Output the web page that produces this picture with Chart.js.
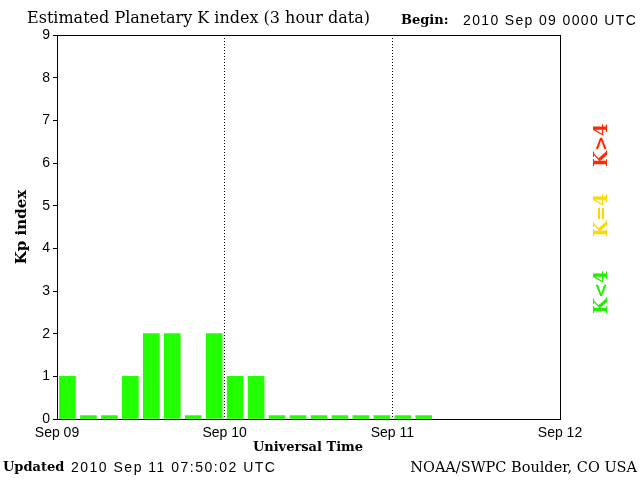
<!DOCTYPE html>
<html>
<head>
<meta charset="utf-8">
<script src="https://cdn.jsdelivr.net/npm/chart.js@4/dist/chart.umd.min.js"></script>
<style>
  body { margin: 0; background: #fff; }
  canvas { display: block; }
</style>
</head>
<body>
<canvas id="kpChart" width="640" height="480"></canvas>
<script>
// 3 hour bins starting at 2010 Sep 09 0000 UTC (hours from start)
const binStartHours = [0, 3, 6, 9, 12, 15, 18, 21, 24, 27, 30, 33, 36, 39, 42, 45, 48, 51];
// Kp values (0 shown as a small stub)
const kpValues = [1, 0.08, 0.08, 1, 2, 2, 0.08, 2, 1, 1, 0.08, 0.08, 0.08, 0.08, 0.08, 0.08, 0.08, 0.08];
const dayTickHours = [0, 24, 48, 72];
const dayTickLabels = ['Sep 09', 'Sep 10', 'Sep 11', 'Sep 12'];
const kpTicks = [0, 1, 2, 3, 4, 5, 6, 7, 8, 9];

const serif = '"DejaVu Serif", "Liberation Serif", serif';
const sans = '"Liberation Sans", Arial, sans-serif';

const textPlugin = {
  id: 'pageText',
  afterDraw(chart) {
    const ctx = chart.ctx;
    ctx.save();
    ctx.fillStyle = '#000';
    ctx.textBaseline = 'middle';
    ctx.textAlign = 'left';

    ctx.font = '16px ' + serif;
    ctx.fillText('Estimated Planetary K index (3 hour data)', 27, 19);
    ctx.font = 'bold 13px ' + serif;
    ctx.fillText('Begin:', 401, 21);
    ctx.font = '14px ' + sans;
    ctx.letterSpacing = '1.35px';
    ctx.fillText('2010 Sep 09 0000 UTC', 463, 21);

    ctx.letterSpacing = '0px';
    ctx.font = 'bold 13px ' + serif;
    ctx.fillText('Updated', 3, 468);
    ctx.font = '14px ' + sans;
    ctx.letterSpacing = '1.5px';
    ctx.fillText('2010 Sep 11 07:50:02 UTC', 71, 468);
    ctx.letterSpacing = '0px';
    ctx.font = '14.5px ' + serif;
    ctx.textAlign = 'right';
    ctx.fillText('NOAA/SWPC Boulder, CO USA', 637, 468);

    ctx.textAlign = 'center';
    ctx.font = 'bold 13px ' + serif;
    ctx.fillText('Universal Time', 308, 448);

    // rotated labels
    const rot = (txt, x, y, color, font) => {
      ctx.save();
      ctx.translate(x, y);
      ctx.rotate(-Math.PI / 2);
      ctx.fillStyle = color;
      ctx.font = font;
      ctx.fillText(txt, 0, 0);
      ctx.restore();
    };
    rot('Kp index', 22, 227, '#000', 'bold 15px ' + serif);
    rot('K>4', 602, 145, '#ff2a00', 'bold 18px ' + serif);
    rot('K=4', 602, 215, '#ffd700', 'bold 18px ' + serif);
    rot('K<4', 602, 292, '#22ee00', 'bold 18px ' + serif);
    ctx.restore();
  }
};

new Chart(document.getElementById('kpChart'), {
  type: 'bar',
  data: {
    datasets: [{
      data: binStartHours.map((h, i) => ({ x: h + 1.5, y: kpValues[i] })),
      backgroundColor: '#22ff00',
      borderWidth: 0,
      barThickness: 16,
      grouped: false
    }]
  },
  options: {
    responsive: false,
    animation: false,
    layout: { padding: { left: 0, top: 35, right: 80, bottom: 31 } },
    plugins: { legend: { display: false }, tooltip: { enabled: false }, title: { display: false } },
    scales: {
      x: {
        type: 'linear',
        offset: false,
        min: 0,
        max: 72,
        afterBuildTicks: (s) => { s.ticks = dayTickHours.map(v => ({ value: v })); },
        afterFit: (s) => { s.height = 30; },
        ticks: {
          callback: (v) => dayTickLabels[dayTickHours.indexOf(v)],
          color: '#000',
          font: { family: sans, size: 14 },
          padding: 6,
          maxRotation: 0
        },
        grid: {
          offset: false,
          drawTicks: false,
          color: (c) => (c.tick && (c.tick.value === 24 || c.tick.value === 48)) ? '#000' : 'rgba(0,0,0,0)'
        },
        border: { color: '#000', width: 1, dash: [1, 2] }
      },
      x2: {
        type: 'linear',
        position: 'top',
        offset: false,
        min: 0,
        max: 72,
        afterFit: (s) => { s.height = 0; },
        ticks: { display: false },
        grid: { display: false },
        border: { color: '#000', width: 1 }
      },
      y: {
        min: 0,
        max: 9,
        afterBuildTicks: (s) => { s.ticks = kpTicks.map(v => ({ value: v })); },
        afterFit: (s) => { s.width = 57; },
        ticks: {
          color: '#000',
          font: { family: sans, size: 14 },
          padding: 3
        },
        grid: { drawOnChartArea: false, tickLength: 4, color: '#000' },
        border: { color: '#000', width: 1 }
      },
      y2: {
        position: 'right',
        min: 0,
        max: 9,
        afterFit: (s) => { s.width = 0; },
        ticks: { display: false },
        grid: { display: false },
        border: { color: '#000', width: 1 }
      }
    }
  },
  plugins: [textPlugin]
});
</script>
</body>
</html>
